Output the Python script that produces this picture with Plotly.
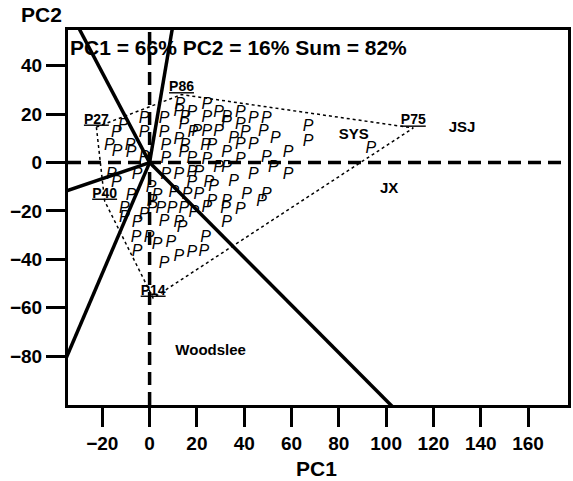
import plotly.graph_objects as go

# Genotype points (PC1, PC2) shown as "P"
p_x = [12.8, 12.4, 17.9, -2.3, 6.1, 14.9, -11.1, -14.1, -2.3, 6.1, 14.5, 18.3, -17.0, -13.7, -8.2, -7.8,
       6.9, 12.4, 14.9, 14.5, -2.3, 6.9, 17.9,
       24.2, 24.2, 29.2, 32.6, 32.6, 38.4, 43.9, 49.4, 38.4, 20.0, 24.2, 29.2, 35.5, 40.5, 48.1, 53.2,
       23.7, 26.3, 32.6, 38.4, 43.9, 38.4, 49.4, 58.6, 24.2,
       67.0, 67.0, 93.5,
       -16.2, -14.1, -5.3, 6.9, 12.4, 17.9, 17.9, -7.8, 0.6, 3.2, 10.3, 15.8, 1.1, -10.7, 1.1, 4.8, 9.5,
       14.5, 18.7, -10.7, -2.3, -5.3, 6.1, 12.4, 13.7,
       20.8, 29.2, 32.6, 35.5, 43.9, 52.3, 58.6, 25.0, 27.1, 20.8, 26.3, 32.6, 41.0, 49.4, 47.3, 24.2,
       32.1, 38.4, 32.6,
       -5.7, -0.2, 3.2, 9.0, 23.7, -5.3, 12.4, 17.9, 22.9, 6.1]
p_y = [23.8, 20.9, 20.5, 18.0, 18.0, 18.4, 15.1, 12.2, 12.2, 12.2, 15.5, 12.2, 6.8, 4.3, 6.8, 3.9,
       6.8, 9.3, 6.8, 3.9, 1.9, 1.4, 1.4,
       23.8, 18.4, 20.5, 18.4, 16.3, 20.5, 18.0, 18.0, 15.5, 12.6, 12.6, 12.6, 9.7, 12.2, 12.6, 9.7,
       6.8, 6.8, 3.9, 7.2, 7.2, 1.0, 1.9, 3.9, 1.0,
       14.7, 8.5, 5.6,
       -5.2, -8.5, -5.2, -5.2, -5.2, -4.3, -8.5, -13.8, -10.5, -13.8, -12.6, -13.4, -16.3, -19.2, -19.2,
       -19.2, -19.2, -19.2, -20.9, -22.9, -21.7, -25.0, -24.6, -25.0, -27.1,
       -4.3, -2.3, -2.3, -8.1, -5.2, -2.3, -5.2, -8.5, -10.1, -13.4, -16.3, -16.3, -13.4, -13.4, -16.3,
       -18.8, -19.2, -19.6, -25.0,
       -31.2, -31.2, -34.1, -33.3, -31.2, -37.0, -39.0, -37.4, -37.0, -42.1]

# Polygon vertex genotypes
vert_names = ["P27", "P86", "P75", "P14", "P40"]
vert_x = [-22.5, 13.5, 111.5, 1.5, -19.0]
vert_y = [14.7, 28.1, 14.3, -56.0, -15.9]

# Sector boundary rays (direction end points, PC1/PC2)
ray_x = [-29.5, 9.5, -34.2, -34.7, 102.0]
ray_y = [54.8, 54.8, -11.4, -79.5, -100.2]

# Environment labels
env_names = ["SYS", "JSJ", "JX", "Woodslee"]
env_x = [86.3, 132.1, 101.3, 25.8]
env_y = [11.1, 14.3, -11.1, -77.9]

x_ticks = [-20, 0, 20, 40, 60, 80, 100, 120, 140, 160]
y_ticks = [-80, -60, -40, -20, 0, 20, 40]
x_range = [-34.5, 176.9]
y_range = [-100.2, 54.8]

FONT = "Liberation Sans, Arial, sans-serif"

fig = go.Figure()

# zero dashed lines
fig.add_trace(go.Scatter(x=[x_range[0], x_range[1]], y=[0, 0], mode="lines",
                         line=dict(color="black", width=3.5, dash="13px,7px"), hoverinfo="skip"))
fig.add_trace(go.Scatter(x=[0, 0], y=[y_range[0], y_range[1]], mode="lines",
                         line=dict(color="black", width=3.5, dash="13px,7px"), hoverinfo="skip"))

# polygon
px_ = vert_x + [vert_x[0]]
py_ = vert_y + [vert_y[0]]
fig.add_trace(go.Scatter(x=px_, y=py_, mode="lines",
                         line=dict(color="black", width=1.5, dash="dot"), hoverinfo="skip"))

# rays
for rx, ry in zip(ray_x, ray_y):
    fig.add_trace(go.Scatter(x=[0, rx * 1.3], y=[0, ry * 1.3], mode="lines",
                             line=dict(color="black", width=3.5), hoverinfo="skip"))

# genotype P's
fig.add_trace(go.Scatter(x=p_x, y=p_y, mode="text", text=["P"] * len(p_x),
                         textfont=dict(family=FONT, size=16, color="black", style="italic"),
                         hoverinfo="skip"))

# vertex labels
fig.add_trace(go.Scatter(x=vert_x, y=vert_y, mode="text",
                         text=["<u>" + n + "</u>" for n in vert_names],
                         textposition="top center",
                         textfont=dict(family=FONT, size=14, color="black", weight="bold"),
                         hoverinfo="skip"))

# env labels
fig.add_trace(go.Scatter(x=env_x, y=env_y, mode="text", text=env_names,
                         textfont=dict(family=FONT, size=15, color="black", weight="bold"),
                         hoverinfo="skip"))

fig.update_layout(
    width=573, height=481,
    margin=dict(l=68, r=2, t=30, b=76),
    paper_bgcolor="white", plot_bgcolor="white",
    showlegend=False,
    font=dict(family=FONT, color="black"),
    xaxis=dict(range=x_range, tickvals=x_ticks, ticks="outside", ticklen=19, tickwidth=3,
               tickcolor="black", showline=True, linewidth=3, linecolor="black", mirror=True,
               showgrid=False, zeroline=False,
               tickfont=dict(family=FONT, size=19, color="black", weight="bold")),
    yaxis=dict(range=y_range, tickvals=y_ticks, ticks="outside", ticklen=19, tickwidth=3,
               tickcolor="black", showline=True, linewidth=3, linecolor="black", mirror=True,
               showgrid=False, zeroline=False,
               tickfont=dict(family=FONT, size=19, color="black", weight="bold")),
    annotations=[
        dict(text="<b>PC1 = 66% PC2 = 16% Sum = 82%</b>", xref="paper", yref="paper",
             x=0, y=1 - (47 - 30) / 375, xanchor="left", yanchor="middle", showarrow=False,
             font=dict(family=FONT, size=21, color="black")),
        dict(text="<b>PC2</b>", xref="paper", yref="paper",
             x=(41 - 68) / 503, y=1 + (30 - 15) / 375, xanchor="center", yanchor="middle",
             showarrow=False, font=dict(family=FONT, size=21, color="black")),
        dict(text="<b>PC1</b>", xref="paper", yref="paper",
             x=(318 - 68) / 503, y=(405 - 468) / 375, xanchor="center", yanchor="middle",
             showarrow=False, font=dict(family=FONT, size=21, color="black")),
    ],
)

fig.write_html("out.html", config={"displayModeBar": False},
               post_script="document.body.style.margin='0';document.body.style.overflow='hidden';")
